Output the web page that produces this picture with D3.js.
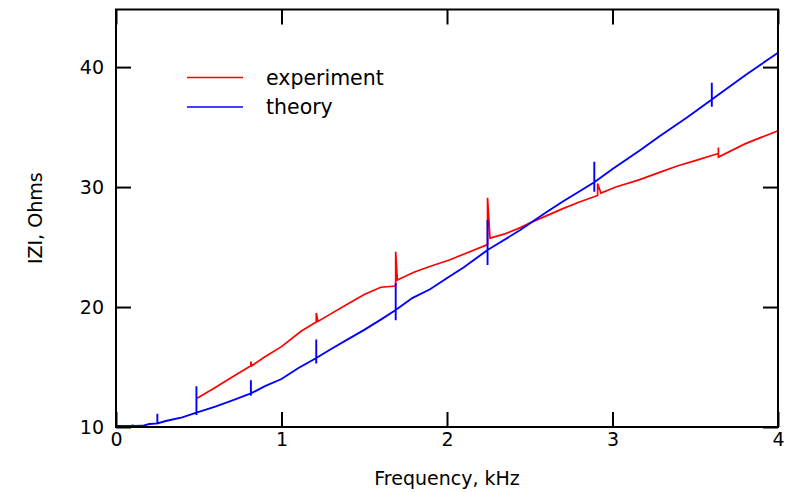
<!DOCTYPE html>
<html lang="en">
<head>
    <meta charset="UTF-8">
    <title>|Z| vs frequency</title>
    <script src="https://cdn.jsdelivr.net/npm/d3@7/dist/d3.min.js"></script>
    <style>
        body { margin: 0; background: #fff; }
        text { font-family: "DejaVu Sans", sans-serif; fill: #000; }
    </style>
</head>
<body>
<script>
// data (kHz, Ohms); repeated frequencies are the spikes
var expFreq = [0.49, 0.6, 0.7, 0.815, 0.815, 0.82, 0.9, 1.0, 1.12, 1.21, 1.21, 1.22, 1.3, 1.4, 1.5, 1.6, 1.69,
               1.69, 1.7, 1.8, 1.9, 2.01, 2.1, 2.245, 2.245, 2.26, 2.35, 2.44, 2.5, 2.6, 2.7, 2.8, 2.91, 2.91, 2.93,
               3.02, 3.16, 3.28, 3.4, 3.5, 3.64, 3.64, 3.64, 3.8, 4.0];
var expZ    = [12.4, 13.3, 14.15, 15.1, 15.45, 15.1, 15.85, 16.7, 18.0, 18.75, 19.5, 18.8, 19.45, 20.25, 21.05, 21.65, 21.75,
               24.6, 22.25, 22.9, 23.4, 23.9, 24.4, 25.2, 29.1, 25.75, 26.1, 26.6, 27.0, 27.6, 28.2, 28.75, 29.3, 30.3, 29.5,
               30.0, 30.6, 31.2, 31.8, 32.2, 32.8, 33.3, 32.5, 33.6, 34.7];

var theoryFreq = [0, 0.1, 0.1, 0.1, 0.16, 0.2, 0.25, 0.25, 0.25, 0.3, 0.4, 0.486, 0.486, 0.486, 0.486,
                  0.6, 0.7, 0.815, 0.815, 0.815, 0.815, 0.9, 1.0, 1.1, 1.21, 1.21, 1.21, 1.21,
                  1.3, 1.4, 1.5, 1.6, 1.69, 1.69, 1.69, 1.69, 1.79, 1.9, 2.01, 2.1, 2.245, 2.245, 2.245, 2.245,
                  2.44, 2.6, 2.7, 2.89, 2.89, 2.89, 2.89, 3.0, 3.16, 3.28, 3.45, 3.6, 3.6, 3.6, 3.6, 3.8, 4.0];
var theoryZ    = [10.08, 10.08, 10.2, 10.08, 10.1, 10.25, 10.3, 11.1, 10.3, 10.5, 10.8, 11.2, 13.4, 11.0, 11.2,
                  11.7, 12.2, 12.8, 13.9, 12.6, 12.8, 13.4, 14.0, 14.9, 15.75, 17.3, 15.3, 15.75,
                  16.5, 17.3, 18.1, 18.95, 19.75, 22.0, 18.9, 19.75, 20.75, 21.5, 22.5, 23.3, 24.75, 27.25, 23.5, 24.75,
                  26.4, 27.9, 28.8, 30.4, 32.1, 29.6, 30.4, 31.5, 33.0, 34.2, 35.8, 37.3, 38.7, 36.7, 37.3, 39.3, 41.2];

var xTicks = [0, 1, 2, 3, 4];
var yTicks = [10, 20, 30, 40];
var seriesNames = ["experiment", "theory"];
var seriesColors = ["#ff0000", "#0000ff"];

var width = 786, height = 492;
var margin = {left: 116, right: 8, top: 9.5, bottom: 65};
var plotW = width - margin.left - margin.right;
var plotH = height - margin.top - margin.bottom;

var svg = d3.select("body").append("svg")
    .attr("width", width)
    .attr("height", height);

var x = d3.scaleLinear().domain([0, 4]).range([0, plotW]);
var y = d3.scaleLinear().domain([10, 44.8]).range([plotH, 0]);

var g = svg.append("g")
    .attr("transform", "translate(" + margin.left + "," + margin.top + ")");

// curves
var line = d3.line()
    .x(function(d) { return x(d[0]); })
    .y(function(d) { return y(d[1]); });

var expData = expFreq.map(function(f, i) { return [f, expZ[i]]; });
var theoryData = theoryFreq.map(function(f, i) { return [f, theoryZ[i]]; });

g.append("path")
    .datum(expData)
    .attr("fill", "none")
    .attr("stroke", seriesColors[0])
    .attr("stroke-width", 1.7)
    .attr("d", line);

g.append("path")
    .datum(theoryData)
    .attr("fill", "none")
    .attr("stroke", seriesColors[1])
    .attr("stroke-width", 1.9)
    .attr("d", line);

// axes, ticks pointing inwards
function styleAxis(sel) {
    sel.select(".domain").remove();
    sel.selectAll(".tick line").attr("stroke", "#000").attr("stroke-width", 2);
    sel.selectAll(".tick text").style("font-size", "19px").style("font-family", "DejaVu Sans");
}

g.append("g")
    .attr("transform", "translate(0," + plotH + ")")
    .call(d3.axisBottom(x).tickValues(xTicks).tickSize(-15).tickPadding(6).tickFormat(d3.format("d")))
    .call(styleAxis);

g.append("g")
    .call(d3.axisTop(x).tickValues(xTicks).tickSize(-15).tickFormat(""))
    .call(styleAxis);

g.append("g")
    .call(d3.axisLeft(y).tickValues(yTicks).tickSize(-15).tickPadding(12).tickFormat(d3.format("d")))
    .call(styleAxis);

g.append("g")
    .attr("transform", "translate(" + plotW + ",0)")
    .call(d3.axisRight(y).tickValues(yTicks).tickSize(-15).tickFormat(""))
    .call(styleAxis);

// frame
g.append("rect")
    .attr("width", plotW)
    .attr("height", plotH)
    .attr("fill", "none")
    .attr("stroke", "#000")
    .attr("stroke-width", 2);

// axis titles
svg.append("text")
    .attr("x", margin.left + plotW / 2)
    .attr("y", 485)
    .attr("text-anchor", "middle")
    .style("font-size", "19px")
    .text("Frequency, kHz");

svg.append("text")
    .attr("transform", "translate(42," + (margin.top + plotH / 2) + ") rotate(-90)")
    .attr("text-anchor", "middle")
    .style("font-size", "19px")
    .text("IZI, Ohms");

// legend
var legend = svg.selectAll(".legend")
    .data(seriesNames)
    .enter().append("g")
    .attr("transform", function(d, i) { return "translate(187," + (77.5 + i * 29.5) + ")"; });

legend.append("line")
    .attr("x1", 0).attr("x2", 56)
    .attr("stroke", function(d, i) { return seriesColors[i]; })
    .attr("stroke-width", 1.7);

legend.append("text")
    .attr("x", 79)
    .attr("y", 7)
    .style("font-size", "20.5px")
    .text(function(d) { return d; });
</script>
</body>
</html>
